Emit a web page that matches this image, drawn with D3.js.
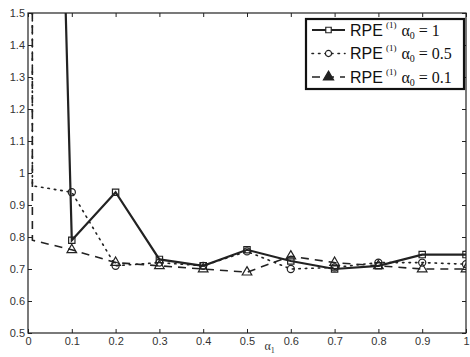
<!DOCTYPE html>
<html>
<head>
<meta charset="utf-8">
<script src="https://cdn.jsdelivr.net/npm/d3@7"></script>
<style>
  body { margin: 0; background: #fff; }
  svg { display: block; }
  .tick text { font-family: "Liberation Sans", Arial, sans-serif; font-size: 11px; fill: #333; }
</style>
</head>
<body>
<svg id="chart" width="470" height="357"></svg>
<script>
// alpha_1 grid (first point sits just off zero)
const alpha1 = [0.01, 0.1, 0.2, 0.3, 0.4, 0.5, 0.6, 0.7, 0.8, 0.9, 1.0];
// RPE^(1) for three alpha_0 settings
const rpeA0_1   = [5.4, 0.79, 0.94, 0.73, 0.71, 0.76, 0.725, 0.70, 0.71, 0.745, 0.745];
const rpeA0_05  = [0.96, 0.94, 0.71, 0.72, 0.71, 0.755, 0.70, 0.705, 0.72, 0.72, 0.715];
const rpeA0_01  = [0.79, 0.76, 0.72, 0.71, 0.70, 0.69, 0.74, 0.72, 0.71, 0.70, 0.70];
// value at alpha_1 = 0 for the two lower curves (far above the axis range)
const startAt0 = { a05: 60, a01: 60 };
const xTicks = [0, 0.1, 0.2, 0.3, 0.4, 0.5, 0.6, 0.7, 0.8, 0.9, 1];
const yTicks = [0.5, 0.6, 0.7, 0.8, 0.9, 1, 1.1, 1.2, 1.3, 1.4, 1.5];
const legendAlpha0 = ["1", "0.5", "0.1"];

const svg = d3.select("#chart");
const m = { left: 28, right: 4, top: 13, bottom: 24 };
const W = 470, H = 357;
const x = d3.scaleLinear().domain([0, 1]).range([m.left, W - m.right]);
const y = d3.scaleLinear().domain([0.5, 1.5]).range([H - m.bottom, m.top]);

svg.append("defs").append("clipPath").attr("id", "plot")
  .append("rect").attr("x", x(0)).attr("y", y(1.5))
  .attr("width", x(1) - x(0)).attr("height", y(0.5) - y(1.5));

const fmt = d => d === 0 ? "0" : (d === 1 ? "1" : String(d));

// axes: ticks point inward on all four sides
const axBottom = svg.append("g").attr("transform", `translate(0,${y(0.5)})`)
  .call(d3.axisBottom(x).tickValues(xTicks).tickFormat(fmt).tickSizeInner(-4).tickSizeOuter(0).tickPadding(5));
const axTop = svg.append("g").attr("transform", `translate(0,${y(1.5)})`)
  .call(d3.axisTop(x).tickValues(xTicks).tickFormat("").tickSizeInner(-4).tickSizeOuter(0));
const axLeft = svg.append("g").attr("transform", `translate(${x(0)},0)`)
  .call(d3.axisLeft(y).tickValues(yTicks).tickFormat(fmt).tickSizeInner(-4).tickSizeOuter(0).tickPadding(3));
const axRight = svg.append("g").attr("transform", `translate(${x(1)},0)`)
  .call(d3.axisRight(y).tickValues(yTicks).tickFormat("").tickSizeInner(-4).tickSizeOuter(0));
[axBottom, axTop, axLeft, axRight].forEach(g => {
  g.select(".domain").remove();
  g.selectAll(".tick line").attr("stroke", "#222").attr("stroke-width", 1);
});
axBottom.selectAll(".tick text").attr("dy", "0.6em");

const plot = svg.append("g").attr("clip-path", "url(#plot)");

const line = d3.line().x(d => x(d[0])).y(d => y(d[1]));

const series = [
  { pts: alpha1.map((a, i) => [a, rpeA0_1[i]]), dash: null, marker: "square" },
  { pts: [[0, startAt0.a05]].concat(alpha1.map((a, i) => [a, rpeA0_05[i]])), dash: "1.5,5", marker: "circle" },
  { pts: [[0, startAt0.a01]].concat(alpha1.map((a, i) => [a, rpeA0_01[i]])), dash: "8,6", marker: "triangle" }
];

series.forEach((s, k) => {
  plot.append("path").datum(s.pts).attr("d", line)
    .attr("fill", "none").attr("stroke", "#222")
    .attr("stroke-width", k === 0 ? 2.2 : 1.6)
    .attr("stroke-dasharray", s.dash)
    .attr("stroke-linecap", k === 1 ? "round" : "butt");
});

const sym = { square: d3.symbolSquare, circle: d3.symbolCircle, triangle: d3.symbolTriangle };
const symSize = { square: 40, circle: 40, triangle: 40 };

function drawMarkers(s) {
  const pts = s.pts.filter(p => p[0] >= 0.1 - 1e-9);
  plot.selectAll(null).data(pts).enter().append("path")
    .attr("d", d3.symbol().type(sym[s.marker]).size(symSize[s.marker]))
    .attr("transform", d => `translate(${x(d[0])},${y(d[1])})`)
    .attr("fill", "none").attr("stroke", "#222").attr("stroke-width", 1.2);
}
series.forEach(drawMarkers);

// frame
svg.append("rect").attr("x", x(0)).attr("y", y(1.5))
  .attr("width", x(1) - x(0)).attr("height", y(0.5) - y(1.5))
  .attr("fill", "none").attr("stroke", "#222").attr("stroke-width", 1.2);

// x axis label
const xl = svg.append("text").attr("x", x(0.54)).attr("y", 350)
  .attr("font-family", "'Liberation Serif', 'Times New Roman', serif").attr("font-size", 12).attr("fill", "#333");
xl.append("tspan").text("α");
xl.append("tspan").attr("font-size", 8).attr("dy", 2.5).text("1");

// legend
const lg = svg.append("g");
lg.append("rect").attr("x", 306).attr("y", 19).attr("width", 158).attr("height", 70)
  .attr("fill", "#fff").attr("stroke", "#111").attr("stroke-width", 2.2);
series.forEach((s, k) => {
  const yy = 30 + k * 23.5;
  lg.append("line").attr("x1", 312).attr("x2", 345).attr("y1", yy).attr("y2", yy)
    .attr("stroke", "#222").attr("stroke-width", k === 0 ? 2 : 1.6)
    .attr("stroke-dasharray", k === 0 ? null : (k === 1 ? "1.5,5" : "8,6"))
    .attr("stroke-linecap", k === 1 ? "round" : "butt");
  lg.append("path").attr("d", d3.symbol().type(sym[s.marker]).size(k === 2 ? 45 : 30))
    .attr("transform", `translate(328.5,${yy})`)
    .attr("fill", k === 2 ? "#222" : "#fff").attr("stroke", "#222").attr("stroke-width", 1.2);
  const t = lg.append("text").attr("x", 350).attr("y", yy + 5.5).attr("fill", "#111");
  t.append("tspan").attr("font-family", "'Liberation Sans', Arial, sans-serif").attr("font-size", 16).text("RPE");
  t.append("tspan").attr("font-family", "'Liberation Serif', serif").attr("font-size", 9).attr("dx", 3).attr("dy", -8).text("(1)");
  t.append("tspan").attr("font-family", "'Liberation Serif', serif").attr("font-size", 16).attr("dx", 5).attr("dy", 8).text("α");
  t.append("tspan").attr("font-family", "'Liberation Serif', serif").attr("font-size", 10).attr("dy", 3).text("0");
  t.append("tspan").attr("font-family", "'Liberation Serif', serif").attr("font-size", 16).attr("dx", 4).attr("dy", -3).text("= " + legendAlpha0[k]);
});
</script>
</body>
</html>
